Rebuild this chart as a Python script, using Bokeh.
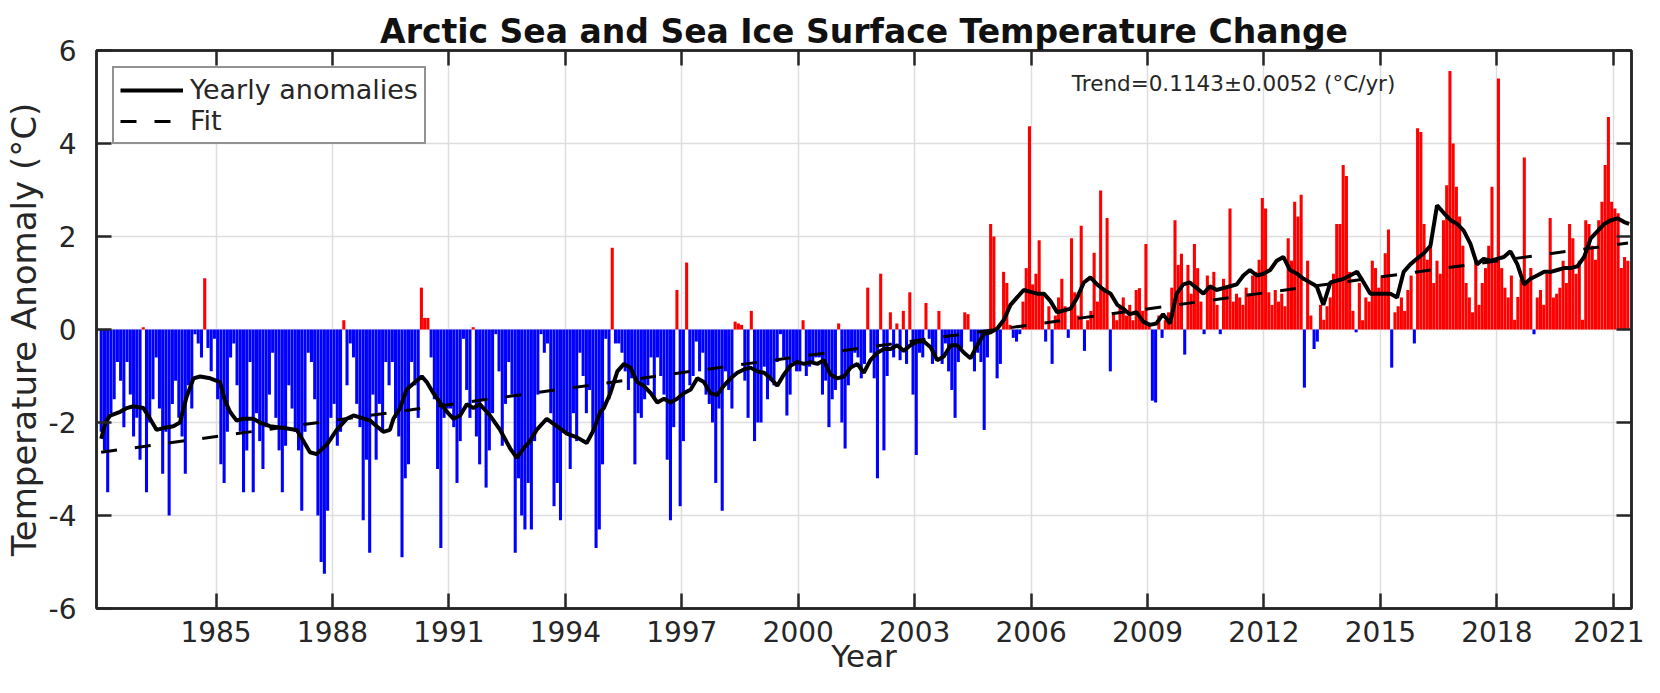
from bokeh.plotting import figure
from bokeh.models import (ColumnDataSource, FixedTicker, LinearAxis, Range1d,
                          Label, Legend, LegendItem)
from bokeh.embed import file_html
from bokeh.resources import INLINE

# ---------------- data (monthly SST/IST anomalies, degC) ----------------
m1982 = [-2.2, -2.6, -3.5, -1.8, -1.5, -0.7, -1.1, -2.1, -0.7, -1.4, -2.3, -1.9]
m1983 = [-2.8, 0.05, -3.5, -2.0, -1.5, -0.6, -1.7, -3.1, -2.2, -4.0, -1.6, -1.1]
m1984 = [-1.9, -2.3, -3.1, -1.2, -1.7, -0.1, -0.3, -0.6, 1.1, -0.4, -0.9, -0.2]
m1985 = [-1.5, -2.9, -3.3, -2.2, -0.6, -0.3, -1.2, -2.2, -3.5, -2.6, -0.7, -3.5]
m1986 = [-1.8, -2.4, -3.0, -2.1, -1.4, -0.5, -1.9, -2.6, -3.5, -2.5, -1.2, -1.7]
m1987 = [-2.2, -2.6, -3.9, -2.2, -0.5, -0.7, -1.5, -4.0, -5.0, -5.25, -3.9, -1.9]
m1988 = [-1.6, -2.5, -2.2, 0.2, -1.2, -0.3, -0.6, -1.6, -2.1, -4.1, -2.8, -4.8]
m1989 = [-1.4, -2.8, -1.6, -2.2, -0.7, -1.2, -0.7, -1.9, -2.3, -4.9, -3.2, -2.9]
m1990 = [-0.7, -1.2, -1.9, 0.9, 0.25, 0.25, -0.6, -1.5, -3.0, -4.7, -1.9, -1.7]
m1991 = [-1.7, -2.1, -3.3, -2.4, -0.2, -1.3, -1.9, 0.05, -2.3, -2.9, -1.5, -3.4]
m1992 = [-2.6, -1.8, -0.1, -0.9, -2.5, -1.6, -0.7, -1.4, -4.8, -3.2, -4.0, -4.3]
m1993 = [-3.3, -4.3, -2.4, -1.4, -0.1, -0.5, -0.3, -1.8, -3.8, -3.3, -4.1, -2.2]
m1994 = [-2.2, -3.0, -1.8, -2.4, -0.5, -1.0, -1.8, -1.3, -2.2, -4.7, -4.3, -2.9]
m1995 = [-0.2, -1.5, 1.76, -0.3, -0.3, -0.5, -0.9, -1.3, -1.05, -2.9, -1.8, -1.9]
m1996 = [-1.5, -1.2, -0.6, -1.45, -0.6, -1.0, -1.4, -2.8, -4.1, -2.1, 0.85, -3.8]
m1997 = [-2.4, 1.44, -1.2, -1.0, -0.26, -0.9, -0.5, -1.4, -1.6, -2.0, -3.3, -1.7]
m1998 = [-3.9, -0.9, -1.3, -1.7, 0.17, 0.13, 0.1, -1.1, -1.9, 0.4, -2.4, -2.0]
m1999 = [-2.0, -0.8, -1.5, -1.1, -1.2, -0.7, -0.1, -0.6, -1.85, -1.4, -0.7, -0.9]
m2000 = [-0.9, 0.2, -1.0, -0.8, -0.7, -0.6, -0.6, -1.4, -1.1, -2.1, -1.5, -1.3]
m2001 = [0.13, -2.0, -2.56, -1.2, -0.8, -0.5, -0.6, -1.05, -0.74, 0.9, -0.5, -1.05]
m2002 = [-3.2, 1.2, -2.6, -1.0, 0.37, -0.6, 0.13, -0.66, 0.4, -0.74, 0.8, -1.4]
m2003 = [-2.7, -0.5, -0.6, 0.57, -0.2, -0.74, -0.58, 0.4, -0.74, -0.3, -0.9, -1.3]
m2004 = [-1.9, -0.7, -0.4, 0.37, 0.33, -0.26, -0.9, -0.5, -0.7, -2.16, -0.6, 2.27]
m2005 = [2.0, -1.05, -0.74, 1.24, 1.0, 0.1, -0.18, -0.26, -0.1, 0.6, 1.32, 4.37]
m2006 = [0.97, 1.2, 1.92, 0.77, -0.26, 0.5, -0.74, 0.3, 0.69, 1.09, 0.5, -0.18]
m2007 = [1.96, 0.8, 0.3, 2.23, -0.46, 0.2, 0.4, 1.65, 0.6, 2.99, 0.9, 2.4]
m2008 = [-0.9, 0.37, 0.2, 0.5, 0.69, 0.3, 0.53, 0.2, 0.85, 0.89, 0.4, 1.84]
m2009 = [0.13, -1.53, -1.57, 0.3, -0.18, 0.2, 0.37, 0.9, 2.35, 1.39, 1.63, -0.54]
m2010 = [1.39, 0.77, 1.84, 1.32, 0.6, -0.1, 1.16, 0.9, 1.24, 0.53, -0.1, 1.09]
m2011 = [0.9, 2.6, 0.6, 0.77, 0.69, 0.53, 0.9, 0.77, 1.16, 1.24, 1.5, 2.83]
m2012 = [2.6, 0.8, 0.53, 0.85, 0.6, 0.77, 0.5, 1.96, 1.48, 2.75, 2.43, 2.9]
m2013 = [-1.25, 1.48, 0.3, -0.42, -0.26, 0.53, 0.21, 0.5, 0.69, 1.2, 2.27, 2.27]
m2014 = [3.54, 3.3, 1.24, 0.4, -0.06, 1.0, 0.2, 0.69, 0.6, 1.48, 1.32, 0.9]
m2015 = [1.16, 1.64, 2.15, -0.82, 0.37, 0.5, 0.69, 0.4, 0.85, 1.16, -0.3, 4.33]
m2016 = [4.25, 2.27, 1.5, 1.8, 1.0, 1.48, 1.2, 2.35, 3.1, 5.56, 4.0, 3.07]
m2017 = [2.43, 1.8, 1.0, 0.69, 0.37, 1.5, 0.53, 1.0, 1.32, 1.8, 3.07, 1.48]
m2018 = [5.4, 1.32, 0.9, 0.69, 1.16, 0.21, 0.7, 1.08, 3.7, 1.0, 1.32, -0.1]
m2019 = [0.69, 0.85, 0.53, 1.2, 2.4, 0.69, 0.77, 0.9, 1.48, 1.0, 2.27, 1.96]
m2020 = [1.2, 1.48, 0.21, 2.35, 2.27, 1.8, 1.5, 2.35, 2.75, 3.54, 4.57, 2.75]
m2021 = [2.6, 2.5, 1.32, 1.56, 1.48]

# yearly running anomaly line, (decimal year, degC)
yearly_a = [(1982.04, -2.35), (1982.15, -2.0), (1982.27, -1.85), (1982.53, -1.77), (1982.70, -1.69),
            (1982.87, -1.65), (1983.13, -1.69), (1983.30, -1.92), (1983.47, -2.16), (1983.64, -2.12),
            (1983.90, -2.08), (1984.07, -2.00), (1984.24, -1.45), (1984.42, -1.05), (1984.59, -1.01),
            (1984.85, -1.05), (1985.10, -1.13), (1985.23, -1.53), (1985.36, -1.77), (1985.53, -1.96),
            (1985.70, -1.92), (1985.96, -1.92), (1986.13, -2.00), (1986.39, -2.08), (1986.74, -2.12),
            (1987.08, -2.16), (1987.25, -2.40), (1987.42, -2.64), (1987.59, -2.68), (1987.85, -2.48),
            (1988.11, -2.16), (1988.37, -1.92), (1988.54, -1.85), (1988.71, -1.89), (1988.97, -1.96),
            (1989.14, -2.08), (1989.31, -2.20), (1989.48, -2.16), (1989.57, -1.92), (1989.74, -1.69),
            (1989.91, -1.29), (1990.13, -1.13), (1990.30, -1.01), (1990.43, -1.13), (1990.60, -1.37),
            (1990.77, -1.57), (1990.95, -1.77), (1991.12, -1.92), (1991.29, -1.85), (1991.46, -1.61),
            (1991.63, -1.69), (1991.80, -1.61), (1992.06, -1.85), (1992.32, -2.16), (1992.58, -2.56),
            (1992.75, -2.76), (1992.92, -2.56), (1993.09, -2.40), (1993.26, -2.16), (1993.52, -1.92),
            (1993.78, -2.08), (1994.04, -2.24), (1994.30, -2.32), (1994.55, -2.44), (1994.73, -2.16),
            (1994.90, -1.77)]
yearly_b = [(1994.99, -1.69), (1995.16, -1.37), (1995.34, -0.90), (1995.51, -0.74), (1995.68, -0.82),
            (1995.85, -1.13), (1996.02, -1.21), (1996.20, -1.37), (1996.37, -1.57), (1996.54, -1.49),
            (1996.71, -1.57), (1996.88, -1.49), (1997.05, -1.37), (1997.23, -1.29), (1997.40, -1.05),
            (1997.57, -1.13), (1997.74, -1.37), (1997.91, -1.41), (1998.08, -1.21), (1998.26, -1.05),
            (1998.43, -0.93), (1998.60, -0.86), (1998.77, -0.82), (1998.94, -0.90), (1999.12, -0.93),
            (1999.29, -1.05), (1999.46, -1.21), (1999.63, -0.97), (1999.80, -0.78), (1999.97, -0.70),
            (2000.15, -0.74), (2000.32, -0.70), (2000.49, -0.74), (2000.66, -0.66), (2000.83, -0.97),
            (2001.00, -1.05), (2001.18, -1.01), (2001.35, -0.82), (2001.52, -0.74), (2001.69, -0.93),
            (2001.86, -0.66), (2002.04, -0.50), (2002.21, -0.42), (2002.38, -0.42), (2002.55, -0.34),
            (2002.72, -0.46), (2002.89, -0.34), (2003.07, -0.26), (2003.24, -0.26), (2003.41, -0.38),
            (2003.58, -0.66), (2003.75, -0.58), (2003.93, -0.34), (2004.10, -0.34), (2004.27, -0.50),
            (2004.44, -0.62), (2004.61, -0.34), (2004.78, -0.10), (2004.96, -0.06), (2005.13, 0.02),
            (2005.30, 0.21), (2005.47, 0.53), (2005.64, 0.69), (2005.81, 0.85), (2005.99, 0.81),
            (2006.16, 0.77), (2006.33, 0.77), (2006.50, 0.61), (2006.67, 0.37), (2006.85, 0.41),
            (2007.02, 0.45), (2007.19, 0.69), (2007.36, 1.01), (2007.53, 1.12), (2007.70, 0.97),
            (2007.88, 0.85), (2008.05, 0.77), (2008.22, 0.53)]
yearly_c = [(2008.37, 0.45), (2008.54, 0.33), (2008.72, 0.37), (2008.89, 0.17), (2009.06, 0.10),
            (2009.23, 0.13), (2009.40, 0.33), (2009.58, 0.13), (2009.75, 0.77), (2009.92, 0.97),
            (2010.09, 1.01), (2010.27, 0.89), (2010.44, 0.77), (2010.61, 0.93), (2010.78, 0.85),
            (2010.95, 0.89), (2011.13, 0.93), (2011.30, 0.97), (2011.47, 1.16), (2011.64, 1.28),
            (2011.81, 1.16), (2011.99, 1.20), (2012.16, 1.28), (2012.33, 1.48), (2012.50, 1.56),
            (2012.67, 1.28), (2012.85, 1.20), (2013.02, 1.09), (2013.19, 1.01), (2013.36, 0.93),
            (2013.53, 0.53), (2013.71, 1.01), (2013.88, 1.05), (2014.05, 1.09), (2014.22, 1.16),
            (2014.40, 1.24), (2014.57, 1.01), (2014.74, 0.77), (2014.91, 0.77), (2015.08, 0.77),
            (2015.26, 0.77), (2015.43, 0.69), (2015.60, 1.24), (2015.77, 1.40), (2015.94, 1.52),
            (2016.12, 1.64), (2016.29, 1.80), (2016.46, 2.67), (2016.63, 2.51), (2016.81, 2.35),
            (2016.98, 2.27), (2017.15, 2.12), (2017.32, 1.84), (2017.49, 1.40), (2017.66, 1.52),
            (2017.84, 1.48), (2018.01, 1.52), (2018.18, 1.56), (2018.35, 1.68), (2018.53, 1.40),
            (2018.70, 0.97), (2018.87, 1.09), (2019.04, 1.16), (2019.22, 1.24), (2019.39, 1.24),
            (2019.56, 1.28), (2019.73, 1.32), (2019.90, 1.32), (2020.08, 1.36), (2020.25, 1.56),
            (2020.42, 1.96), (2020.59, 2.11), (2020.77, 2.27), (2020.94, 2.35), (2021.11, 2.39),
            (2021.28, 2.31), (2021.41, 2.27)]

# linear fit end points
fit_x = [1982.04, 2021.38]
fit_y = [-2.64, 1.86]

year_ticks = [1985, 1988, 1991, 1994, 1997, 2000, 2003, 2006, 2009, 2012, 2015, 2018, 2021]
temp_ticks = [-6, -4, -2, 0, 2, 4, 6]
temp_labels = ["-6", "-4", "-2", "0", "2", "4", "6"]

title_text = "Arctic Sea and Sea Ice Surface Temperature Change"
trend_text = "Trend=0.1143\u00b10.0052 (\u00b0C/yr)"

# ---------------- build ----------------
monthly = (m1982 + m1983 + m1984 + m1985 + m1986 + m1987 + m1988 + m1989 + m1990 + m1991 +
           m1992 + m1993 + m1994 + m1995 + m1996 + m1997 + m1998 + m1999 + m2000 + m2001 +
           m2002 + m2003 + m2004 + m2005 + m2006 + m2007 + m2008 + m2009 + m2010 + m2011 +
           m2012 + m2013 + m2014 + m2015 + m2016 + m2017 + m2018 + m2019 + m2020 + m2021)
month_x = [1982 + (i + 0.5) / 12.0 for i in range(len(monthly))]
bar_colors = ["#ff0000" if v > 0 else "#0000ff" for v in monthly]
bars = ColumnDataSource(dict(x=month_x, top=monthly, color=bar_colors))

yearly = yearly_a + yearly_b + yearly_c
line_x = [pt[0] for pt in yearly]
line_y = [pt[1] for pt in yearly]

FONT = "DejaVu Sans"
TXT = "#262626"

p = figure(width=1644, height=677, output_backend="svg", toolbar_location=None,
           x_range=Range1d(1981.92, 2021.47), y_range=Range1d(-6, 6),
           min_border_left=93, min_border_right=13, min_border_top=45, min_border_bottom=69,
           background_fill_color="white", border_fill_color="white")

xax = p.below[0]
yax = p.left[0]

p.title.text = title_text
p.title.text_font = FONT
p.title.text_font_size = "33px"
p.title.text_font_style = "bold"
p.title.text_color = "#111111"
p.title.align = "center"
p.title.standoff = 0
p.title.padding = dict(left=0, right=0, top=9, bottom=0)

p.vbar(x="x", top="top", bottom=0, width=0.95 / 12.0, fill_color="color",
       line_color=None, source=bars)
r_fit = p.line(fit_x, fit_y, line_color="black", line_width=3, line_dash="16 18")
r_line = p.line(line_x, line_y, line_color="black", line_width=4)

xax.ticker = FixedTicker(ticks=year_ticks)
yax.ticker = FixedTicker(ticks=temp_ticks)
yax.major_label_overrides = dict(zip(temp_ticks, temp_labels))
p.xgrid.ticker = FixedTicker(ticks=year_ticks)
p.ygrid.ticker = FixedTicker(ticks=temp_ticks)
p.grid.grid_line_color = "#dedede"
p.grid.grid_line_width = 1.5

top_ax = LinearAxis(ticker=FixedTicker(ticks=year_ticks))
right_ax = LinearAxis(ticker=FixedTicker(ticks=temp_ticks))
p.add_layout(top_ax, "above")
p.add_layout(right_ax, "right")

for ax in (xax, yax, top_ax, right_ax):
    ax.axis_line_color = TXT
    ax.axis_line_width = 2.5
    ax.major_tick_line_color = TXT
    ax.major_tick_line_width = 2.5
    ax.major_tick_in = 15
    ax.major_tick_out = 0
    ax.minor_tick_line_color = None
    ax.major_label_text_font = FONT
    ax.major_label_text_font_size = "28px"
    ax.major_label_text_color = TXT

for ax in (top_ax, right_ax):
    ax.major_label_text_font_size = "1px"
    ax.major_label_text_color = None
    ax.major_label_standoff = 0

xax.major_label_standoff = 12
xax.axis_label = "Year"
xax.axis_label_text_font = FONT
xax.axis_label_text_font_size = "31px"
xax.axis_label_text_font_style = "normal"
xax.axis_label_text_color = TXT
xax.axis_label_standoff = -7

yax.major_label_standoff = 20
yax.axis_label = "Temperature Anomaly (\u00b0C)"
yax.axis_label_text_font = FONT
yax.axis_label_text_font_size = "34px"
yax.axis_label_text_font_style = "normal"
yax.axis_label_text_color = TXT
yax.axis_label_standoff = 2

p.outline_line_color = TXT
p.outline_line_width = 2.5

legend = Legend(items=[LegendItem(label="Yearly anomalies", renderers=[r_line]),
                       LegendItem(label="Fit", renderers=[r_fit])],
                location="top_left")
legend.margin = 16
legend.padding = 6
legend.spacing = 0
legend.glyph_width = 63
legend.glyph_height = 28
legend.label_height = 28
legend.label_standoff = 7
legend.label_text_font = FONT
legend.label_text_font_size = "27px"
legend.label_text_color = TXT
legend.border_line_color = TXT
legend.border_line_width = 2.5
legend.background_fill_color = "white"
legend.background_fill_alpha = 1.0
p.add_layout(legend)

p.add_layout(Label(x=2007.05, y=5.3, text=trend_text, text_font=FONT,
                   text_font_size="21.5px", text_color=TXT,
                   text_align="left", text_baseline="middle"))

open("out.html", "w").write(file_html(p, INLINE))
